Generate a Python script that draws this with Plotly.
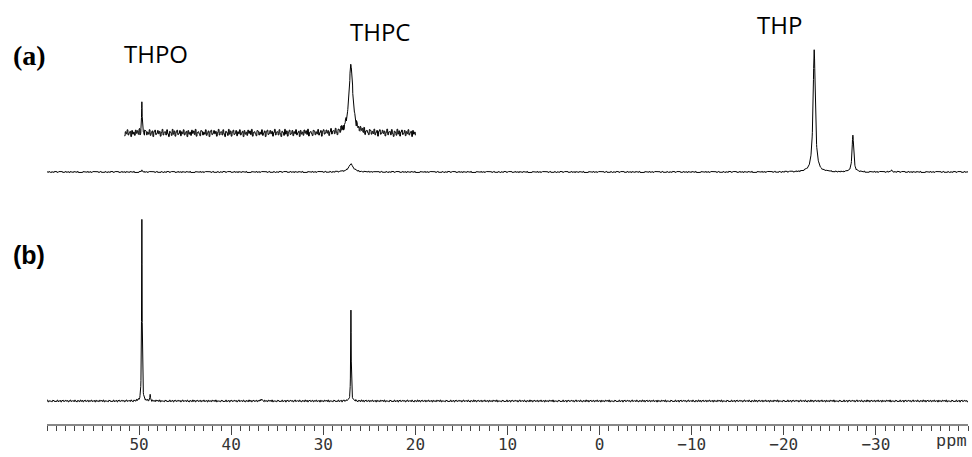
import numpy as np
import plotly.graph_objects as go

# ---------------- data ----------------
# spectrum (a): peak positions (ppm), heights (arb.), line widths (ppm)
a_ppm = [49.7, 27.0, -23.3, -27.5, -31.7]
a_height = [2.0, 8.0, 122.0, 37.0, 1.5]
a_fwhm = [0.08, 0.6, 0.28, 0.2, 0.2]

# expanded inset of (a), 51.6 .. 20.0 ppm
inset_ppm = [49.7, 27.0]
inset_height = [30.0, 68.0]
inset_fwhm = [0.08, 0.5]
inset_span = [51.6, 20.0]

# spectrum (b)
b_ppm = [49.7, 48.8, 36.7, 27.0]
b_height = [182.0, 6.0, 2.0, 90.0]
b_fwhm = [0.07, 0.08, 0.15, 0.07]

# baseline noise texture (hand-typed, relative units)
noise_pattern = [0.3, -0.5, 0.8, -0.2, -0.9, 0.4, 0.1, -0.6, 0.9, -0.3, 0.5, -0.8,
                 0.2, 0.7, -0.4, -0.1, 0.6, -0.7, 0.3, -0.2, 0.8, -0.5, 0.0, 0.4,
                 -0.9, 0.6, -0.3, 0.2, -0.6, 0.7, -0.1, 0.5, -0.4, 0.9, -0.8, 0.1,
                 0.3, -0.2, -0.7, 0.6, 0.4, -0.5, 0.2, -0.3, 0.8, -0.6, 0.0, 0.5,
                 -0.9, 0.3, 0.7, -0.4, -0.1, 0.6, -0.2, 0.4, -0.8, 0.1, 0.9, -0.5, 0.2]

tick_values = [50, 40, 30, 20, 10, 0, -10, -20, -30]
tick_labels = ["50", "40", "30", "20", "10", "0", "\u221210", "\u221220", "\u221230"]
x_range = [60, -40]

# ---------------- build traces ----------------
STEP = 0.02


def spectrum(lo, hi, ppm, height, fwhm, noise_amp, shift):
    x = np.arange(hi, lo - 1e-9, -STEP)
    y = np.zeros_like(x)
    for p, h, w in zip(ppm, height, fwhm):
        y += h / (1.0 + ((x - p) / (w / 2.0)) ** 2)
    idx = (np.arange(len(x)) // 5 + shift) % len(noise_pattern)
    y += noise_amp * np.array(noise_pattern)[idx]
    return x, y


xa, ya = spectrum(-40, 60, a_ppm, a_height, a_fwhm, 0.6, 0)
xi, yi = spectrum(inset_span[1], inset_span[0], inset_ppm, inset_height, inset_fwhm, 4.0, 17)
xb, yb = spectrum(-40, 60, b_ppm, b_height, b_fwhm, 1.0, 33)

OFF_A, OFF_I, OFF_B = 252, 291, 23

fig = go.Figure()
line = dict(color="black", width=1)
fig.add_trace(go.Scatter(x=xa, y=ya + OFF_A, mode="lines", line=line, hoverinfo="skip"))
fig.add_trace(go.Scatter(x=xi, y=yi + OFF_I, mode="lines", line=line, hoverinfo="skip"))
fig.add_trace(go.Scatter(x=xb, y=yb + OFF_B, mode="lines", line=line, hoverinfo="skip"))

PLOT_L, PLOT_W = 47, 921


def px(xpix):
    return (xpix - PLOT_L) / PLOT_W


ann = []
ann.append(dict(text="<b>(a)</b>", xref="paper", yref="y", x=px(11), y=369, xanchor="left",
                yanchor="middle", showarrow=False,
                font=dict(family="Liberation Serif", size=28, color="black")))
ann.append(dict(text="<b>(b)</b>", xref="paper", yref="y", x=px(11), y=169, xanchor="left",
                yanchor="middle", showarrow=False,
                font=dict(family="Liberation Sans", size=25, color="black")))
for txt, xp, yp in [("THPO", 48.15, 371), ("THPC", 23.8, 393), ("THP", -19.5, 400)]:
    ann.append(dict(text=txt, xref="x", yref="y", x=xp, y=yp, xanchor="center",
                    yanchor="middle", showarrow=False,
                    font=dict(family="Open Sans", size=24, color="black")))
ann.append(dict(text="ppm", xref="paper", yref="paper", x=px(969), y=-0.015, xanchor="right",
                yanchor="top", showarrow=False,
                font=dict(family="Liberation Mono", size=17, color="#333")))

fig.update_layout(
    width=972, height=457,
    margin=dict(l=PLOT_L, r=972 - PLOT_L - PLOT_W, t=0, b=33),
    plot_bgcolor="white", paper_bgcolor="white",
    showlegend=False,
    annotations=ann,
    xaxis=dict(range=x_range, showgrid=False, zeroline=False,
               showline=True, linecolor="#888", linewidth=2,
               tickmode="array", tickvals=tick_values, ticktext=tick_labels,
               ticks="outside", ticklen=9, tickcolor="#444", tickwidth=1,
               ticklabelstandoff=-4,
               tickfont=dict(family="DejaVu Sans Mono", size=16, color="#333"),
               minor=dict(tickmode="linear", tick0=0, dtick=1, ticks="outside",
                          ticklen=5, tickcolor="#444", tickwidth=1)),
    yaxis=dict(range=[0, 424], visible=False, showgrid=False, zeroline=False),
)

fig.write_html("out.html", config={"displayModeBar": False},
               post_script="document.body.style.margin='0';document.body.style.overflow='hidden';")
